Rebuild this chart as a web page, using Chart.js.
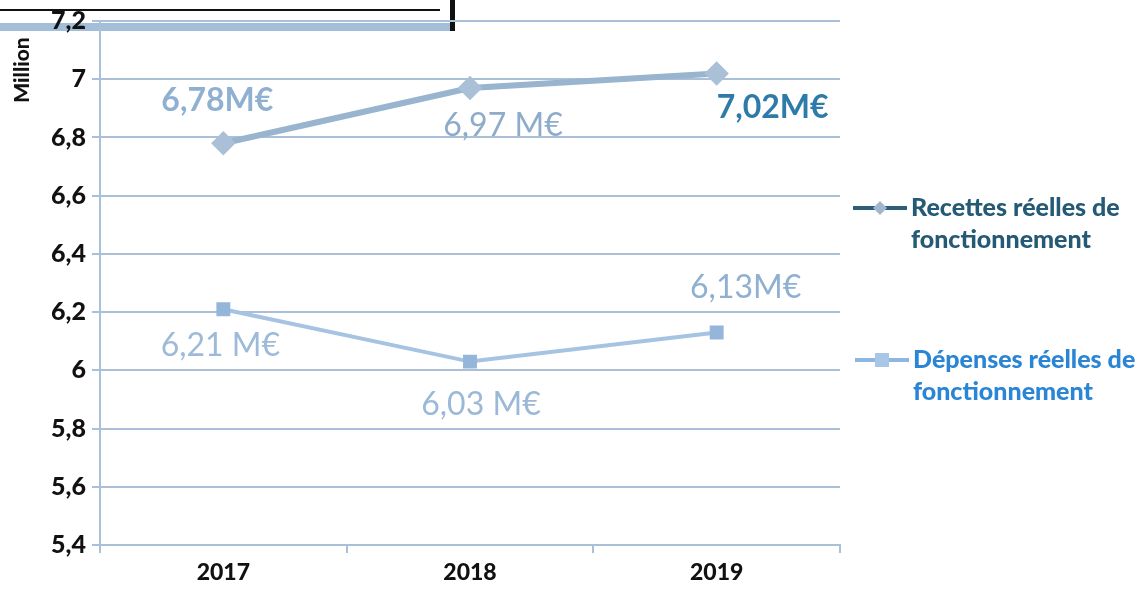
<!DOCTYPE html>
<html>
<head>
<meta charset="utf-8">
<script src="https://cdn.jsdelivr.net/npm/chart.js@4/dist/chart.umd.min.js"></script>
<style>
  html, body { margin: 0; padding: 0; background: #ffffff; }
  #wrap { width: 1148px; height: 591px; position: relative; }
</style>
</head>
<body>
<div id="wrap"><canvas id="c" width="1148" height="591"></canvas></div>
<script>
// ---- data ----
const categories = ["2017", "2018", "2019"];
const recettes = [6.78, 6.97, 7.02];
const depenses = [6.21, 6.03, 6.13];
const recettesLabels = ["6,78M€", "6,97 M€", "7,02M€"];
const depensesLabels = ["6,21 M€", "6,03 M€", "6,13M€"];
const recettesName = ["Recettes réelles de", "fonctionnement"];
const depensesName = ["Dépenses réelles de", "fonctionnement"];
const yTitle = "Million";
const yMin = 5.4, yMax = 7.2, yStep = 0.2;

Chart.defaults.font.family = "Lato, 'Open Sans', sans-serif";

const GRID = "#a9c0d8";

// value labels near the points
const labelPlugin = {
  id: "valueLabels",
  afterDatasetsDraw(chart, args, opts) {
    const ctx = chart.ctx;
    ctx.save();
    ctx.textAlign = "center";
    ctx.textBaseline = "middle";
    chart.data.datasets.forEach((ds, di) => {
      const meta = chart.getDatasetMeta(di);
      const cfg = opts.sets[di];
      meta.data.forEach((pt, i) => {
        const o = cfg.offsets[i];
        ctx.font = cfg.fonts[i];
        ctx.fillStyle = cfg.colors[i];
        ctx.fillText(ds.valueLabels[i], pt.x + o[0], pt.y + o[1]);
      });
    });
    ctx.restore();
  }
};

// custom legend on the right, with wrapped text
const legendPlugin = {
  id: "sideLegend",
  afterDraw(chart, args, opts) {
    const ctx = chart.ctx;
    ctx.save();
    chart.data.datasets.forEach((ds, di) => {
      const it = opts.items[di];
      const y0 = it.y;
      ctx.strokeStyle = it.symbolColor;
      ctx.lineWidth = 4;
      ctx.beginPath();
      ctx.moveTo(it.x, y0);
      ctx.lineTo(it.x + 54, y0);
      ctx.stroke();
      ctx.fillStyle = it.markerColor;
      const mx = it.x + 27;
      if (it.marker === "diamond") {
        ctx.beginPath();
        ctx.moveTo(mx, y0 - 7); ctx.lineTo(mx + 7, y0); ctx.lineTo(mx, y0 + 7); ctx.lineTo(mx - 7, y0);
        ctx.closePath(); ctx.fill();
      } else {
        ctx.fillRect(mx - 7, y0 - 7, 14, 14);
      }
      ctx.fillStyle = it.textColor;
      ctx.font = "900 25px Lato";
      ctx.textAlign = "left";
      ctx.textBaseline = "middle";
      ds.legendLines.forEach((line, li) => {
        ctx.fillText(line, it.x + 58, y0 + li * 32);
      });
    });
    ctx.restore();
  }
};

// y title and top decoration
const decoPlugin = {
  id: "deco",
  beforeDraw(chart) {
    const ctx = chart.ctx;
    ctx.save();
    ctx.fillStyle = "#ffffff";
    ctx.fillRect(0, 0, chart.width, chart.height);
    ctx.fillStyle = "#a3bed8";
    ctx.fillRect(0, 23, 455, 8);
    ctx.fillStyle = "#111111";
    ctx.fillRect(0, 9, 440, 2);
    ctx.fillRect(450, 0, 5, 31);
    ctx.restore();
  },
  afterDraw(chart) {
    const ctx = chart.ctx;
    ctx.save();
    ctx.translate(22, 70);
    ctx.rotate(-Math.PI / 2);
    ctx.font = "900 21px Lato";
    ctx.fillStyle = "#111111";
    ctx.textAlign = "center";
    ctx.textBaseline = "middle";
    ctx.fillText(yTitle, 0, 0);
    ctx.restore();
  }
};

new Chart(document.getElementById("c"), {
  type: "line",
  data: {
    labels: categories,
    datasets: [
      {
        label: recettesName.join(" "),
        legendLines: recettesName,
        valueLabels: recettesLabels,
        data: recettes,
        borderColor: "#98b4cf",
        borderWidth: 6,
        pointStyle: "rectRot",
        pointRadius: 8,
        pointBackgroundColor: "#a9c0d6",
        pointBorderColor: "#a9c0d6",
        tension: 0
      },
      {
        label: depensesName.join(" "),
        legendLines: depensesName,
        valueLabels: depensesLabels,
        data: depenses,
        borderColor: "#a6c3e1",
        borderWidth: 4,
        pointStyle: "rect",
        pointRadius: 7,
        pointBackgroundColor: "#94b6da",
        pointBorderColor: "#94b6da",
        tension: 0
      }
    ]
  },
  options: {
    responsive: false,
    animation: false,
    layout: { padding: { top: 15, right: 308, left: 0, bottom: 0 } },
    plugins: {
      legend: { display: false },
      tooltip: { enabled: false },
      valueLabels: {
        sets: [
          {
            offsets: [[-6, -43], [33, 38], [56, 34]],
            colors: ["#8fb0d1", "#8eabc9", "#2e7aa8"],
            fonts: ["bold 32px Lato", "32px Lato", "bold 32px Lato"]
          },
          {
            offsets: [[-3, 36], [11, 43], [29, -45]],
            colors: ["#9dbad8", "#9bb8d7", "#8fb0d0"],
            fonts: ["32px Lato", "32px Lato", "32px Lato"]
          }
        ]
      },
      sideLegend: {
        items: [
          { x: 853, y: 208, symbolColor: "#2d5f7a", markerColor: "#9fb8cc", marker: "diamond", textColor: "#245a75" },
          { x: 855, y: 360, symbolColor: "#8fb6e0", markerColor: "#a8c6e6", marker: "square", textColor: "#2a85d5" }
        ]
      }
    },
    scales: {
      x: {
        offset: true,
        grid: {
          offset: true,
          drawOnChartArea: false,
          drawTicks: true,
          tickLength: 8,
          color: GRID,
          lineWidth: 2
        },
        border: { color: GRID, width: 2 },
        ticks: {
          color: "#111111",
          font: { size: 23, weight: "900" },
          padding: 6
        },
        afterFit(scale) { scale.height = 46; }
      },
      y: {
        min: yMin,
        max: yMax,
        grid: {
          color: GRID,
          lineWidth: 2,
          drawTicks: true,
          tickLength: 8
        },
        border: { color: GRID, width: 2 },
        ticks: {
          stepSize: yStep,
          color: "#111111",
          font: { size: 25, weight: "900" },
          padding: 6,
          callback: (v) => {
            const r = Math.round(v * 10) / 10;
            return (Number.isInteger(r) ? String(r) : r.toFixed(1)).replace(".", ",");
          }
        },
        afterFit(scale) { scale.width = 100; }
      }
    }
  },
  plugins: [decoPlugin, labelPlugin, legendPlugin]
});
</script>
</body>
</html>
